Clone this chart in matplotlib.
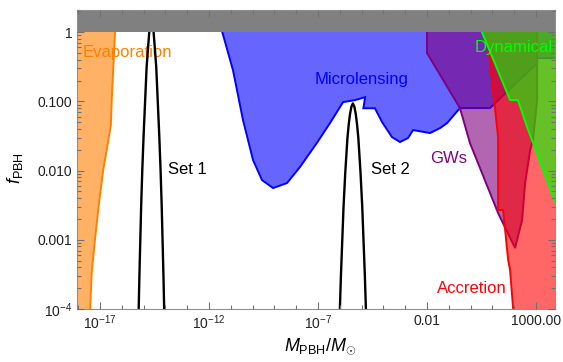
import numpy as np
import matplotlib.pyplot as plt

plt.rcParams['font.family'] = ['Liberation Sans', 'DejaVu Sans']
plt.rcParams['mathtext.fontset'] = 'custom'
plt.rcParams['mathtext.rm'] = 'Liberation Sans'
plt.rcParams['mathtext.it'] = 'Liberation Sans:italic'
plt.rcParams['mathtext.bf'] = 'Liberation Sans:bold'

# plot range, log10 units
logm_lim = (-18.04, 3.87)
logf_lim = (-4.0, 0.32)

# constraint boundaries: log10(M_PBH/M_sun), log10(f_PBH)
evap_logm = [-16.25, -16.31, -16.46, -16.50, -16.69, -16.85, -17.03, -17.23, -17.38, -17.45, -17.50]
evap_logf = [0.4, 0.0, -0.98, -1.34, -1.70, -1.99, -2.43, -3.00, -3.48, -4.0, -4.5]

micro_logm = [-11.75, -11.39, -10.90, -10.44, -9.98, -9.57, -9.06, -8.42, -7.83, -7.05, -6.45,
              -5.85, -5.30, -4.84, -4.92, -4.39, -4.06, -3.61, -3.24, -2.87, -2.64, -1.86,
              -1.40, -1.08, -0.49, 0.89, 3.05, 3.05, 4.5]
micro_logf = [0.4, 0.0, -0.549, -1.271, -1.848, -2.137, -2.253, -2.18, -1.95, -1.60, -1.314,
              -1.011, -0.982, -0.939, -1.10, -1.10, -1.30, -1.516, -1.588, -1.53, -1.415, -1.458,
              -1.386, -1.314, -1.097, -1.097, -0.448, -0.375, -0.375]

gw_logm = [-2.0, -2.0, -0.49, -0.03, 1.26, 2.04, 2.36, 2.50, 2.73, 2.86, 3.05, 3.05]
gw_logf = [0.4, -0.303, -1.097, -1.603, -2.614, -3.119, -2.715, -2.18, -1.704, -1.56, -0.98, 0.4]

acc_logm = [0.62, 0.74, 1.26, 1.26, 1.49, 1.72, 1.81, 1.95, 1.97]
acc_logf = [0.4, 0.0, -1.516, -2.57, -2.57, -3.29, -3.44, -4.0, -4.5]

dyn_logm = [0.11, 0.52, 1.81, 2.17, 2.59, 3.50, 4.5]
dyn_logf = [0.4, 0.0, -0.982, -0.982, -1.372, -2.137, -2.98]

# mass functions of the two benchmark sets
set1_logm = [-15.25, -15.225, -15.19, -15.15, -15.11, -15.06, -15.00, -14.93, -14.86, -14.74, -14.69,
             -14.64, -14.59, -14.54, -14.42, -14.35, -14.28, -14.22, -14.17, -14.13, -14.09, -14.055, -14.03]
set1_logf = [-4.3, -4.0, -3.5, -3.0, -2.5, -2.0, -1.5, -1.0, -0.5, 0.0, 0.1,
             0.15, 0.1, 0.0, -0.5, -1.0, -1.5, -2.0, -2.5, -3.0, -3.5, -4.0, -4.3]

set2_logm = [-6.03, -6.00, -5.95, -5.89, -5.83, -5.75, -5.70, -5.65, -5.59, -5.53, -5.47,
             -5.40, -5.33, -5.27, -5.21, -5.15, -5.10, -5.05, -4.97, -4.91, -4.85, -4.80, -4.77]
set2_logf = [-4.33, -4.03, -3.53, -3.03, -2.53, -2.03, -1.78, -1.53, -1.33, -1.18, -1.08,
             -1.03, -1.08, -1.18, -1.33, -1.53, -1.78, -2.03, -2.53, -3.03, -3.53, -4.03, -4.33]

xticks_log = [-17, -12, -7, -2, 3]
xtick_labels = [r'$10^{-17}$', r'$10^{-12}$', r'$10^{-7}$', '0.01', '1000.00']
yticks_log = [-4, -3, -2, -1, 0]
ytick_labels = [r'$10^{-4}$', '0.001', '0.010', '0.100', '1']

# label name, log10 position, color
region_labels = [
    ('Evaporation', -17.78, -0.29, '#ff8000'),
    ('Microlensing', -7.14, -0.69, '#0000ff'),
    ('Set 1', -13.88, -1.99, 'black'),
    ('Set 2', -4.57, -1.99, 'black'),
    ('GWs', -1.86, -1.82, '#800080'),
    ('Dynamical', 0.17, -0.22, '#00ff00'),
    ('Accretion', -1.54, -3.71, '#ff0000'),
]


def pw(v):
    return 10.0 ** np.asarray(v, dtype=float)


def region(ax, lx, ly, rgb, z):
    fc = rgb + (0.6,)
    ec = rgb + (1.0,)
    ax.fill(pw(lx), pw(ly), fc=fc, ec=ec, lw=1.4, zorder=z)


fig = plt.figure(figsize=(5.63, 3.62), dpi=100)
ax = fig.add_axes([0.1373, 0.1464, 0.8485, 0.826])
ax.set_xscale('log')
ax.set_yscale('log')

# constraints, closed outside the plot range
region(ax, [-19.5] + evap_logm[::-1] + [-19.5], [-4.5] + evap_logf[::-1] + [0.4],
       (1.0, 0.5, 0.0), 2.0)
region(ax, micro_logm + [4.5], micro_logf + [0.4], (0.0, 0.0, 1.0), 2.1)
region(ax, gw_logm, gw_logf, (0.5, 0.0, 0.5), 2.2)
region(ax, acc_logm + [4.5, 4.5], acc_logf + [-4.5, 0.4], (1.0, 0.0, 0.0), 2.3)
region(ax, dyn_logm + [4.5], dyn_logf + [0.4], (0.0, 1.0, 0.0), 2.4)

ax.plot(pw(set1_logm), pw(set1_logf), color='black', lw=1.7, zorder=4)
ax.plot(pw(set2_logm), pw(set2_logf), color='black', lw=1.7, zorder=4)

# f_PBH > 1 excluded
ax.axhspan(1.0, 10.0, color='#808080', lw=0, zorder=8)

for name, lx, ly, c in region_labels:
    ax.text(10.0 ** lx, 10.0 ** ly, name, color=c, fontsize=12, ha='left', va='center', zorder=3)

ax.set_xticks(pw(xticks_log))
ax.set_xticklabels(xtick_labels)
ax.set_xticks(pw(range(-18, 4)), minor=True)
ax.set_yticks(pw(yticks_log))
ax.set_yticklabels(ytick_labels)
ax.set_yticks([m * 10.0 ** k for k in range(-4, 1) for m in range(2, 10)
               if m * 10.0 ** k < 10.0 ** logf_lim[1]], minor=True)
ax.xaxis.set_minor_formatter(plt.NullFormatter())
ax.yaxis.set_minor_formatter(plt.NullFormatter())
ax.set_xlim(pw(logm_lim))
ax.set_ylim(pw(logf_lim))

ax.tick_params(which='both', direction='in', top=True, right=True, color='#707070',
               width=0.8, labelsize=10, labelcolor='#222222')
ax.tick_params(which='major', length=5)
ax.tick_params(which='minor', length=3)
ax.xaxis.set_zorder(9)
ax.yaxis.set_zorder(9)
for s in ax.spines.values():
    s.set_color('#909090')
    s.set_linewidth(0.8)
    s.set_zorder(9)

fig.text(0.568, 0.044, r'$M_{\mathrm{PBH}}/M_{\odot}$', fontsize=13, ha='center', va='center')
fig.text(0.027, 0.536, r'$f_{\mathrm{PBH}}$', fontsize=13, rotation=90, ha='center', va='center')

fig.savefig('out.png', dpi=100)
